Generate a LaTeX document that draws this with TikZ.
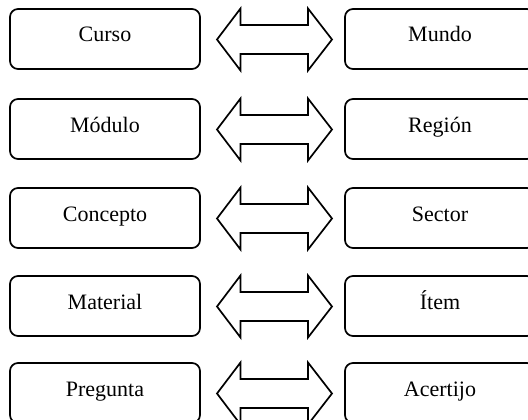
\documentclass[tikz,border=0pt]{standalone}
\usepackage{fontspec}
\setmainfont{Liberation Serif}
\usetikzlibrary{calc}
\tikzset{
  box/.style={draw, line width=1.7pt, rounded corners=8pt, minimum width=190pt, minimum height=60pt,
    inner sep=0pt, outer sep=0pt, text height=16pt, text depth=10pt,
    font=\fontsize{22}{26}\selectfont},
  dblarrow/.style={draw, line width=1.7pt, line join=miter, fill=white}
}
\begin{document}
\begin{tikzpicture}[x=1pt,y=-1pt]
\useasboundingbox (0,0) rectangle (528,420);
\clip (0,0) rectangle (528,420);
\node[box] (L1) at (105,39) {Curso};
\node[box] (R1) at (440,39) {Mundo};
\node[box] (L2) at (105,129) {Módulo};
\node[box] (R2) at (440,129) {Región};
\node[box] (L3) at (105,218) {Concepto};
\node[box] (R3) at (440,218) {Sector};
\node[box] (L4) at (105,306) {Material};
\node[box] (R4) at (440,306) {Ítem};
\node[box] (L5) at (105,393) {Pregunta};
\node[box] (R5) at (440,393) {Acertijo};
\foreach \i in {1,...,5}{
  \draw[dblarrow] ($(L\i.east)+(17,0.5)$) -- ++(23.5,-31) -- ++(0,16.5) -- ++(67.5,0) -- ++(0,-16.5)
    -- ($(R\i.west)+(-13,0.5)$) -- ++(-24,31) -- ++(0,-16.5) -- ++(-67.5,0) -- ++(0,16.5) -- cycle;
}
\end{tikzpicture}
\end{document}
